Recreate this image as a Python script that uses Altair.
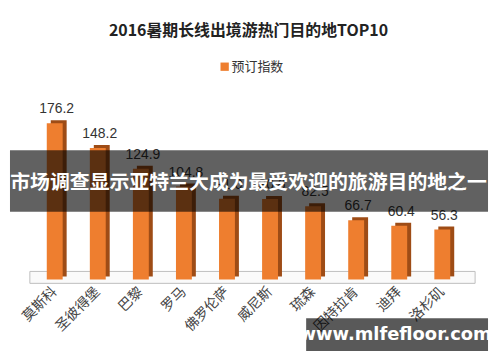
import altair as alt
import pandas as pd

categories = ["莫斯科", "圣彼得堡", "巴黎", "罗马", "佛罗伦萨", "威尼斯", "琉森", "因特拉肯", "迪拜", "洛杉矶"]
values = [176.2, 148.2, 124.9, 104.8, 91.0, 90.6, 82.5, 66.7, 60.4, 56.3]
labels = ["176.2", "148.2", "124.9", "104.8", "91.0", "90.6", "82.5", "66.7", "60.4", "56.3"]
title_text = "2016暑期长线出境游热门目的地TOP10"
legend_text = "预订指数"
banner_text = "市场调查显示亚特兰大成为最受欢迎的旅游目的地之一"
watermark_text = "www.mlfefloor.com"

df = pd.DataFrame({"city": categories, "value": values, "label": labels})
one = pd.DataFrame({"k": [0]})

FONT = "Noto Sans CJK SC"
xs = alt.Scale(paddingInner=0, paddingOuter=0.585)
ys = alt.Scale(domain=[0, 305])
x_axis = alt.Axis(title=None, labelAngle=-45, labelAlign="right", labelBaseline="middle",
                  labelFont=FONT, labelFontSize=14, labelColor="#444444",
                  labelPadding=10, domain=False, ticks=False, grid=False)
x_enc = alt.X("city:N", sort=categories, scale=xs, axis=x_axis, title=None)
y_enc = alt.Y("value:Q", scale=ys, axis=None)

base = alt.Chart(df)

floor = alt.Chart(one).mark_rect(fill="#fafafa", stroke="#bdbdbd", strokeWidth=1).encode(
    x=alt.value(22), x2=alt.value(470), y=alt.value(264), y2=alt.value(276)
)

side = base.mark_bar(color="#9e4c16", size=16, xOffset=4, yOffset=-3).encode(x=x_enc, y=y_enc)
front = base.mark_bar(color="#ee7e2f", size=16).encode(x=x_enc, y=y_enc)
vals = base.mark_text(font="Liberation Sans", fontSize=14, color="#333333", baseline="bottom", dy=-7, dx=2).encode(
    x=x_enc, y=y_enc, text="label:N")

title = alt.Chart(one).mark_text(text=title_text, font=FONT, fontSize=16, fontWeight="bold",
                                 color="#222222", align="center", baseline="middle").encode(
    x=alt.value(242), y=alt.value(22))

leg_sq = alt.Chart(one).mark_square(color="#ee7e2f", size=70, opacity=1).encode(
    x=alt.value(218), y=alt.value(58))
leg_tx = alt.Chart(one).mark_text(text=legend_text, font=FONT, fontSize=13, color="#333333",
                                  align="left", baseline="middle").encode(
    x=alt.value(225), y=alt.value(58))

banner = alt.Chart(one).mark_rect(color="#000000", opacity=0.62).encode(
    x=alt.value(2), x2=alt.value(483), y=alt.value(142), y2=alt.value(204))
banner_tx = alt.Chart(one).mark_text(text=banner_text, font=FONT, fontSize=20, fontWeight="bold",
                                     color="#ffffff", align="center", baseline="middle").encode(
    x=alt.value(242), y=alt.value(175))

wm = alt.Chart(one).mark_rect(color="#000000", opacity=0.65).encode(
    x=alt.value(300), x2=alt.value(483), y=alt.value(311), y2=alt.value(344))
wm_tx = alt.Chart(one).mark_text(text=watermark_text, font="DejaVu Sans", fontSize=18, fontWeight="bold",
                                 color="#ffffff", align="center", baseline="middle").encode(
    x=alt.value(390), y=alt.value(328))

chart = alt.layer(floor, side, front, vals, title, leg_sq, leg_tx, banner, banner_tx, wm, wm_tx).properties(
    width=484, height=272, padding=0
).configure_view(stroke=None)

chart.save("out.html", embed_options={"renderer": "svg", "actions": False})
